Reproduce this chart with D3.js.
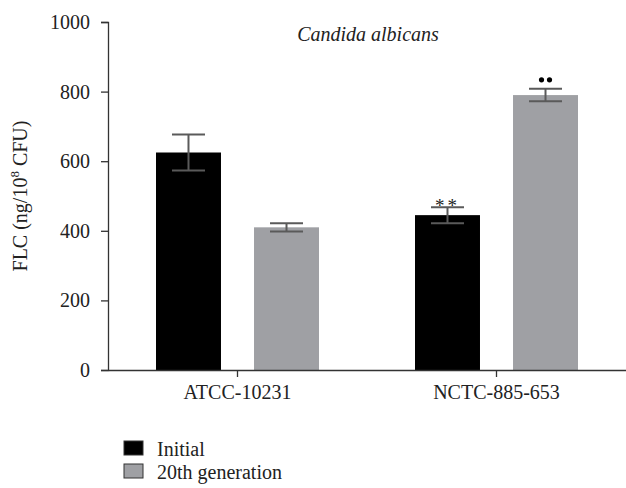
<!DOCTYPE html>
<html>
<head>
<meta charset="utf-8">
<script src="https://cdn.jsdelivr.net/npm/d3@7"></script>
<style>
  body { margin: 0; background: #fff; }
  svg text { font-family: "Liberation Serif", "Times New Roman", Times, serif !important; fill: #222; }
</style>
</head>
<body>
<script>
const strains = ["ATCC-10231", "NCTC-885-653"];
const series = ["Initial", "20th generation"];
const initialValues = [625, 445];
const initialErrors = [52, 23];
const gen20Values = [410, 790];
const gen20Errors = [12, 18];
const yTicks = [0, 200, 400, 600, 800, 1000];
const seriesColors = ["#000000", "#9fa0a4"];

const w = 626, h = 488;
const margin = { left: 108, right: 0, top: 22, bottom: 118 };
const serif = '"Liberation Serif", "Times New Roman", Times, serif';

const rows = [];
strains.forEach((s, i) => {
  rows.push({ strain: s, series: series[0], value: initialValues[i], err: initialErrors[i] });
  rows.push({ strain: s, series: series[1], value: gen20Values[i], err: gen20Errors[i] });
});

const svg = d3.select("body").append("svg")
  .attr("width", w)
  .attr("height", h)
  .attr("font-family", serif);

const x = d3.scaleBand()
  .domain(strains)
  .range([margin.left, w - margin.right]);

const xInner = d3.scaleBand()
  .domain(series)
  .range([48, 211])
  .paddingInner(0.337);

const y = d3.scaleLinear()
  .domain([0, 1000])
  .range([h - margin.bottom, margin.top]);

const color = d3.scaleOrdinal().domain(series).range(seriesColors);

// bars
svg.selectAll("rect.bar")
  .data(rows)
  .enter()
  .append("rect")
  .attr("class", "bar")
  .attr("x", d => x(d.strain) + xInner(d.series))
  .attr("width", xInner.bandwidth())
  .attr("y", d => y(d.value))
  .attr("height", d => y(0) - y(d.value))
  .attr("fill", d => color(d.series));

// error bars
const capW = 33;
const eb = svg.selectAll("g.err")
  .data(rows)
  .enter()
  .append("g")
  .attr("class", "err")
  .attr("stroke", "#5a5a5a")
  .attr("stroke-width", 2);
eb.append("line")
  .attr("x1", d => x(d.strain) + xInner(d.series) + xInner.bandwidth() / 2)
  .attr("x2", d => x(d.strain) + xInner(d.series) + xInner.bandwidth() / 2)
  .attr("y1", d => y(d.value - d.err))
  .attr("y2", d => y(d.value + d.err));
[-1, 1].forEach(sign => {
  eb.append("line")
    .attr("x1", d => x(d.strain) + xInner(d.series) + xInner.bandwidth() / 2 - capW / 2)
    .attr("x2", d => x(d.strain) + xInner(d.series) + xInner.bandwidth() / 2 + capW / 2)
    .attr("y1", d => y(d.value + sign * d.err))
    .attr("y2", d => y(d.value + sign * d.err));
});

// y axis
const yAxis = svg.append("g")
  .attr("transform", `translate(${margin.left},0)`)
  .call(d3.axisLeft(y).tickValues(yTicks).tickFormat(d3.format("d")).tickSize(7).tickPadding(11));

// x axis
const xAxis = svg.append("g")
  .attr("transform", `translate(0,${y(0)})`)
  .call(d3.axisBottom(x).tickSize(7).tickPadding(8).tickSizeOuter(0));

svg.selectAll(".tick text")
  .attr("font-family", serif)
  .attr("font-size", 20)
  .attr("fill", "#222");
yAxis.attr("font-family", serif);
xAxis.attr("font-family", serif);

svg.selectAll(".domain, .tick line").attr("stroke", "#333").attr("stroke-width", 1.3);

// y label
svg.append("text")
  .attr("transform", `translate(27,${(y(0) + y(1000)) / 2}) rotate(-90)`)
  .attr("text-anchor", "middle")
  .attr("font-family", serif)
  .attr("font-size", 20)
  .html('FLC (ng/10<tspan dy="-8" font-size="13">8</tspan><tspan dy="8"> CFU)</tspan>');

// title
svg.append("text")
  .attr("x", 368)
  .attr("y", 41)
  .attr("text-anchor", "middle")
  .attr("font-family", serif)
  .attr("font-size", 20)
  .attr("font-style", "italic")
  .text("Candida albicans");

// significance marks
const b2 = x(strains[1]) + xInner(series[0]) + xInner.bandwidth() / 2;
svg.append("text")
  .attr("x", b2)
  .attr("y", y(initialValues[1] + initialErrors[1]) + 5)
  .attr("text-anchor", "middle")
  .attr("font-size", 19)
  .attr("letter-spacing", 3)
  .text("**");
const g2 = x(strains[1]) + xInner(series[1]) + xInner.bandwidth() / 2;
svg.selectAll("circle.dot")
  .data([-4, 4])
  .enter()
  .append("circle")
  .attr("cx", d => g2 + d)
  .attr("cy", y(gen20Values[1] + gen20Errors[1]) - 9)
  .attr("r", 2.6)
  .attr("fill", "#000");

// legend
const legend = svg.selectAll("g.legend")
  .data(series)
  .enter()
  .append("g")
  .attr("class", "legend")
  .attr("transform", (d, i) => `translate(124,${441 + i * 23})`);
legend.append("rect")
  .attr("width", 19)
  .attr("height", 14)
  .attr("fill", d => color(d))
  .attr("stroke", "#333")
  .attr("stroke-width", 1);
legend.append("text")
  .attr("x", 33)
  .attr("y", 15)
  .attr("font-family", serif)
  .attr("font-size", 20)
  .text(d => d);
</script>
</body>
</html>
